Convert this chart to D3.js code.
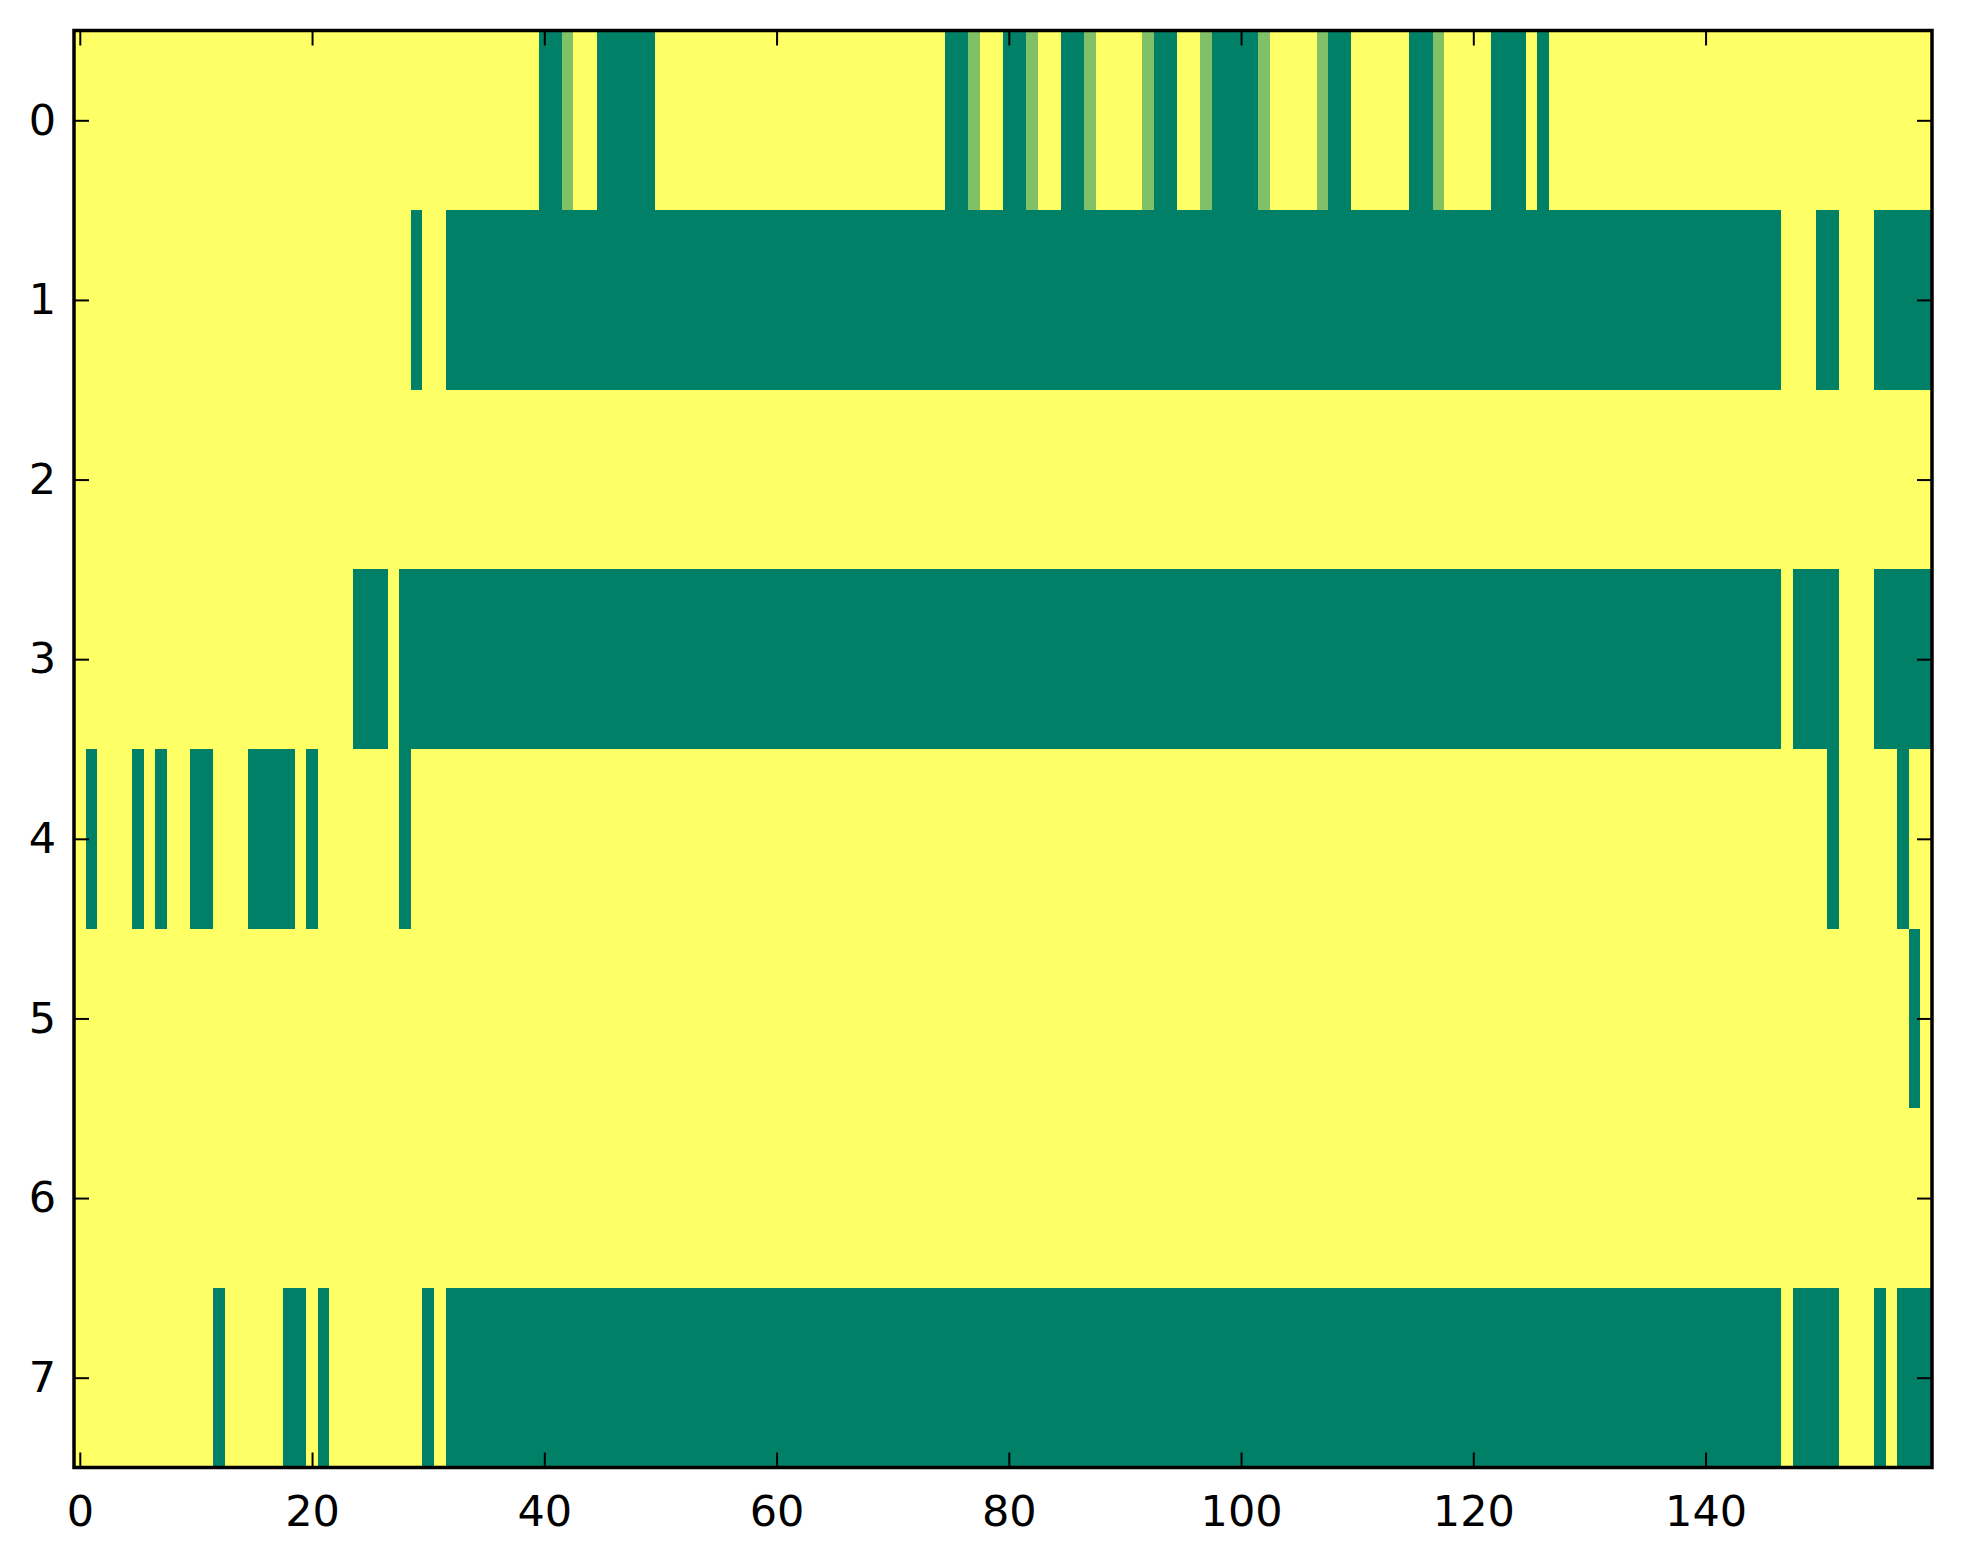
<!DOCTYPE html>
<html>
<head>
<meta charset="utf-8">
<script src="https://cdn.jsdelivr.net/npm/d3@7"></script>
<style>
  body { margin: 0; background: #fff; }
  .tick text { font-family: "DejaVu Sans", sans-serif; font-size: 43px; fill: #000; }
  .tick line { stroke: #000; stroke-width: 2; }
</style>
</head>
<body>
<script>
//cell values per row, one char per column (0 = low, h = half, 1 = high), grouped by 10 columns
var row0 = "1111111111 1111111111 1111111111 1111111111 00h1100000 1111111111 1111111111 1111100h11 00h1100h11 11h0011h00 00h1111h00 1111100h11 1100010111 1111111111 1111111111 1111111111";
var row1 = "1111111111 1111111111 1111111110 1100000000 0000000000 0000000000 0000000000 0000000000 0000000000 0000000000 0000000000 0000000000 0000000000 0000000000 0000000111 0011100000";
var row2 = "1111111111 1111111111 1111111111 1111111111 1111111111 1111111111 1111111111 1111111111 1111111111 1111111111 1111111111 1111111111 1111111111 1111111111 1111111111 1111111111";
var row3 = "1111111111 1111111111 1111000100 0000000000 0000000000 0000000000 0000000000 0000000000 0000000000 0000000000 0000000000 0000000000 0000000000 0000000000 0000000100 0011100000";
var row4 = "1011101011 0011100001 0111111101 1111111111 1111111111 1111111111 1111111111 1111111111 1111111111 1111111111 1111111111 1111111111 1111111111 1111111111 1111111111 1011111011";
var row5 = "1111111111 1111111111 1111111111 1111111111 1111111111 1111111111 1111111111 1111111111 1111111111 1111111111 1111111111 1111111111 1111111111 1111111111 1111111111 1111111101";
var row6 = "1111111111 1111111111 1111111111 1111111111 1111111111 1111111111 1111111111 1111111111 1111111111 1111111111 1111111111 1111111111 1111111111 1111111111 1111111111 1111111111";
var row7 = "1111111111 1101111100 1011111111 0100000000 0000000000 0000000000 0000000000 0000000000 0000000000 0000000000 0000000000 0000000000 0000000000 0000000000 0000000100 0011101000";
var rows = [row0, row1, row2, row3, row4, row5, row6, row7];
var charValue = {"0": 0, "h": 0.5, "1": 1};

//tick values
var xTicks = [0, 20, 40, 60, 80, 100, 120, 140];
var yTicks = [0, 1, 2, 3, 4, 5, 6, 7];

(function(){

var width = 1963,
    height = 1564,
    left = 74, right = 1932,
    top = 30.5, bottom = 1467.5;

//turn the row strings into cells
var cells = [];
rows.forEach(function(str, r){
    str.replace(/\s+/g, "").split("").forEach(function(ch, c){
        cells.push({row: r, col: c, value: charValue[ch]});
    });
});
var nCols = rows[0].replace(/\s+/g, "").length;

var svg = d3.select("body")
    .append("svg")
    .attr("width", width)
    .attr("height", height);

var x = d3.scaleLinear().domain([-0.5, nCols - 0.5]).range([left, right]);
var y = d3.scaleLinear().domain([-0.5, rows.length - 0.5]).range([top, bottom]);

//summer colormap is linear in rgb
var color = d3.scaleLinear().domain([0, 1]).range(["#008066", "#ffff66"]);

svg.append("g")
    .selectAll("rect")
    .data(cells)
    .enter()
    .append("rect")
    .attr("x", function(d){ return x(d.col - 0.5); })
    .attr("y", function(d){ return y(d.row - 0.5); })
    .attr("width", function(d){ return x(d.col + 0.5) - x(d.col - 0.5) + 0.3; })
    .attr("height", function(d){ return y(d.row + 0.5) - y(d.row - 0.5) + 0.3; })
    .attr("shape-rendering", "crispEdges")
    .style("fill", function(d){ return color(d.value); });

//axes, ticks point inward on all four sides
var gx = svg.append("g")
    .attr("transform", "translate(0," + bottom + ")")
    .call(d3.axisBottom(x).tickValues(xTicks).tickSizeInner(-15).tickSizeOuter(0).tickPadding(28));
var gxt = svg.append("g")
    .attr("transform", "translate(0," + top + ")")
    .call(d3.axisTop(x).tickValues(xTicks).tickSizeInner(-15).tickSizeOuter(0).tickFormat(""));
var gy = svg.append("g")
    .attr("transform", "translate(" + left + ",0)")
    .call(d3.axisLeft(y).tickValues(yTicks).tickSizeInner(-15).tickSizeOuter(0).tickPadding(18));
var gyr = svg.append("g")
    .attr("transform", "translate(" + right + ",0)")
    .call(d3.axisRight(y).tickValues(yTicks).tickSizeInner(-15).tickSizeOuter(0).tickFormat(""));
[gx, gxt, gy, gyr].forEach(function(g){ g.select(".domain").remove(); });

//frame
svg.append("rect")
    .attr("x", left)
    .attr("y", top)
    .attr("width", right - left)
    .attr("height", bottom - top)
    .style("fill", "none")
    .style("stroke", "#000")
    .style("stroke-width", 3.5);

})();
</script>
</body>
</html>
